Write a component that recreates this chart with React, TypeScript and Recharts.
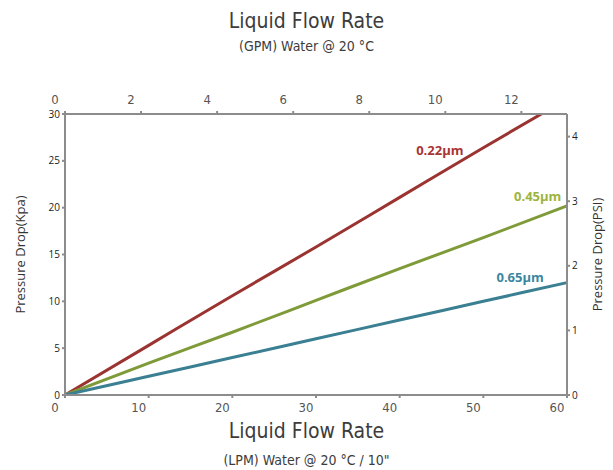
import React from "react";
import {
  LineChart,
  Line,
  XAxis,
  YAxis,
  ReferenceDot,
} from "recharts";

// flow rate in LPM (bottom axis)
const flowLpm = [0, 10, 20, 30, 40, 50, 60];
// pressure drop in kPa per filter grade
const drop022 = [0, 5.3, 10.6, 15.8, 21.1, 26.4, 31.6];
const drop045 = [0, 3.4, 6.7, 10.1, 13.5, 16.8, 20.2];
const drop065 = [0, 2.0, 4.0, 6.0, 8.0, 10.0, 12.0];

// top axis is drawn at 12 GPM ≈ 54.5 LPM on this chart
const gpmPerLpm = 0.22;

const lpmTicks = [0, 10, 20, 30, 40, 50, 60];
const gpmTicks = [0, 2, 4, 6, 8, 10, 12];
const kpaTicks = [0, 5, 10, 15, 20, 25, 30];
const psiTicks = [0, 1, 2, 3, 4];

// where the series names sit (lpm, kPa)
const seriesLabels = [
  { name: "0.22μm", x: 44.8, y: 26.1, color: "#a83532" },
  { name: "0.45μm", x: 56.5, y: 21.2, color: "#9db43c" },
  { name: "0.65μm", x: 54.4, y: 12.6, color: "#3a86a0" },
];

const data = flowLpm.map((f, i) => ({
  lpm: f,
  gpm: f * gpmPerLpm,
  a: drop022[i],
  b: drop045[i],
  c: drop065[i],
}));

const din = "'DejaVu Sans Condensed', 'Liberation Sans Narrow', sans-serif";
const axisColor = "#8c8c8c";

const App = () => {
  return (
    <div
      style={{
        position: "absolute",
        left: 0,
        top: 0,
        width: 613,
        height: 470,
        background: "#fff",
        fontFamily: din,
      }}
    >
      <div
        style={{
          position: "absolute",
          top: 9,
          width: 613,
          textAlign: "center",
          fontSize: 21,
          color: "#3c3c3c",
        }}
      >
        Liquid Flow Rate
      </div>
      <div
        style={{
          position: "absolute",
          top: 38,
          width: 613,
          textAlign: "center",
          fontSize: 14,
          color: "#3c3c3c",
        }}
      >
        (GPM) Water @ 20 °C
      </div>
      <div
        style={{
          position: "absolute",
          top: 419,
          width: 613,
          textAlign: "center",
          fontSize: 21,
          color: "#3c3c3c",
        }}
      >
        Liquid Flow Rate
      </div>
      <div
        style={{
          position: "absolute",
          top: 452,
          width: 613,
          textAlign: "center",
          fontSize: 14,
          color: "#3c3c3c",
        }}
      >
        (LPM) Water @ 20 °C / 10"
      </div>
      <div style={{ position: "absolute", left: 0, top: 0 }}>
        <LineChart
          width={613}
          height={470}
          data={data}
          margin={{ top: 84, right: 16, bottom: 45, left: 20 }}
        >
          <XAxis
            xAxisId="lpm"
            dataKey="lpm"
            type="number"
            domain={[0, 60]}
            ticks={lpmTicks}
            height={30}
            stroke={axisColor}
            strokeWidth={2}
            tickSize={3}
            tick={{ fill: "#555", fontSize: 13, fontFamily: din, dx: -10, dy: 3 }}
          />
          <XAxis
            xAxisId="gpm"
            dataKey="gpm"
            orientation="top"
            type="number"
            domain={[0, 13.2]}
            allowDataOverflow
            ticks={gpmTicks}
            height={30}
            stroke={axisColor}
            strokeWidth={2}
            tickSize={3}
            tick={{ fill: "#555", fontSize: 13, fontFamily: din, dx: -10, dy: -5 }}
          />
          <YAxis
            yAxisId="kpa"
            type="number"
            domain={[0, 30]}
            ticks={kpaTicks}
            allowDataOverflow
            width={45}
            stroke={axisColor}
            strokeWidth={2}
            tickSize={3}
            tick={{ fill: "#222", fontSize: 10, fontFamily: "'Open Sans', sans-serif" }}
            label={{
              value: "Pressure Drop(Kpa)",
              angle: -90,
              position: "insideLeft",
              offset: 0,
              style: {
                textAnchor: "middle",
                fill: "#333",
                fontSize: 13,
                fontFamily: "'Open Sans', sans-serif",
              },
            }}
          />
          <YAxis
            yAxisId="psi"
            orientation="right"
            type="number"
            domain={[0, 4.35]}
            allowDataOverflow
            ticks={psiTicks}
            width={30}
            stroke={axisColor}
            strokeWidth={2}
            tickSize={3}
            tick={{ fill: "#222", fontSize: 10, fontFamily: "'Open Sans', sans-serif" }}
            label={{
              value: "Pressure Drop(PSI)",
              angle: -90,
              position: "insideRight",
              offset: 0,
              style: {
                textAnchor: "middle",
                fill: "#333",
                fontSize: 13,
                fontFamily: "'Open Sans', sans-serif",
              },
            }}
          />
          <Line
            xAxisId="lpm"
            yAxisId="kpa"
            dataKey="a"
            type="monotone"
            stroke="#9b3331"
            strokeWidth={3}
            dot={false}
            isAnimationActive={false}
          />
          <Line
            xAxisId="lpm"
            yAxisId="kpa"
            dataKey="b"
            type="monotone"
            stroke="#7f9a38"
            strokeWidth={3}
            dot={false}
            isAnimationActive={false}
          />
          <Line
            xAxisId="lpm"
            yAxisId="kpa"
            dataKey="c"
            type="monotone"
            stroke="#3a7f92"
            strokeWidth={3}
            dot={false}
            isAnimationActive={false}
          />
          {seriesLabels.map((s) => (
            <ReferenceDot
              key={s.name}
              xAxisId="lpm"
              yAxisId="kpa"
              x={s.x}
              y={s.y}
              r={0}
              stroke="none"
              label={{
                value: s.name,
                position: "center",
                fill: s.color,
                fontSize: 13,
                fontWeight: 700,
                fontFamily: "'Open Sans', sans-serif",
              }}
            />
          ))}
        </LineChart>
      </div>
    </div>
  );
};

export default App;
